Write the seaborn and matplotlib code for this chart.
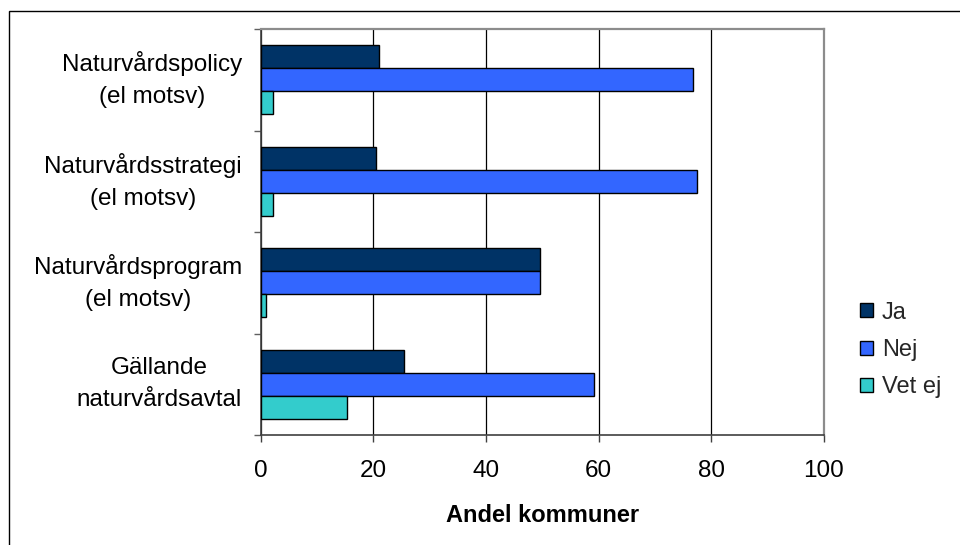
import numpy as np
import pandas as pd
import matplotlib
matplotlib.use('Agg')
import matplotlib.pyplot as plt
from matplotlib.patches import Rectangle
import seaborn as sns

# Data (percent of municipalities)
kategorier = ['Naturvårdspolicy\n(el motsv)',
              'Naturvårdsstrategi\n(el motsv)',
              'Naturvårdsprogram\n(el motsv)',
              'Gällande\nnaturvårdsavtal']
svar = ['Ja', 'Nej', 'Vet ej']
ja = [21.1, 20.5, 49.6, 25.4]
nej = [76.8, 77.5, 49.6, 59.2]
vet_ej = [2.1, 2.1, 0.9, 15.4]
x_ticks = [0, 20, 40, 60, 80, 100]
farger = ['#003366', '#3366FF', '#33CCCC']

df = pd.DataFrame({
    'kategori': kategorier * 3,
    'svar': np.repeat(svar, len(kategorier)),
    'andel': ja + nej + vet_ej,
})

sns.set_theme(style='white')
plt.rcParams['font.family'] = ['Liberation Sans', 'DejaVu Sans']

fig = plt.figure(figsize=(9.6, 5.45), dpi=100)
ax = fig.add_axes([260.7 / 960, 1 - 435 / 545, (823.7 - 260.7) / 960, (435 - 29) / 545])

sns.barplot(data=df, y='kategori', x='andel', hue='svar', orient='h',
            palette=farger, saturation=1, width=0.675, gap=0,
            edgecolor='black', linewidth=1.0, ax=ax, legend=True, zorder=3)

ax.set_xlim(0, 100)
ax.set_xticks(x_ticks)
ax.set_xticklabels([str(v) for v in x_ticks], fontsize=17.5, color='black')
ax.set_xlabel('Andel kommuner', fontsize=17, fontweight='bold', labelpad=15.5,
              color='black')
ax.set_ylabel('')

# labels at category centres, tick marks between categories
ax.set_ylim(3.5, -0.5)
ax.set_yticks(range(len(kategorier)))
ax.set_yticklabels(kategorier, fontsize=17.5, color='black',
                   multialignment='center', linespacing=1.6, va='center')
ax.set_yticks(np.arange(-0.5, len(kategorier)), minor=True)
ax.tick_params(axis='y', which='major', length=0, pad=13.5)
ax.tick_params(axis='y', which='minor', length=5, width=1, color='#606060',
               direction='out', left=True)
ax.tick_params(axis='x', which='major', length=5, width=1, color='#404040',
               direction='out', bottom=True, pad=13)

ax.grid(axis='x', color='black', linewidth=0.9, zorder=0)
ax.set_axisbelow(True)
for side in ['top', 'right']:
    ax.spines[side].set_color('#8c8c8c')
    ax.spines[side].set_linewidth(1.6)
for side in ['left', 'bottom']:
    ax.spines[side].set_color('#404040')
    ax.spines[side].set_linewidth(1.2)

ax.get_legend().remove()
handles, labels = ax.get_legend_handles_labels()
fig.legend(handles, labels, loc='center left',
           bbox_to_anchor=(848 / 960, 1 - 350 / 545), frameon=False,
           fontsize=17, handlelength=0.55, handleheight=0.55,
           handletextpad=0.38, labelspacing=0.65, borderpad=0)

# outer chart border
fig.patches.append(Rectangle((9 / 960, -0.1), 2.0, 1 - 11 / 545 + 0.1,
                             transform=fig.transFigure, fill=False,
                             edgecolor='black', linewidth=1.0))

fig.savefig('out.png', dpi=100, facecolor='white')
